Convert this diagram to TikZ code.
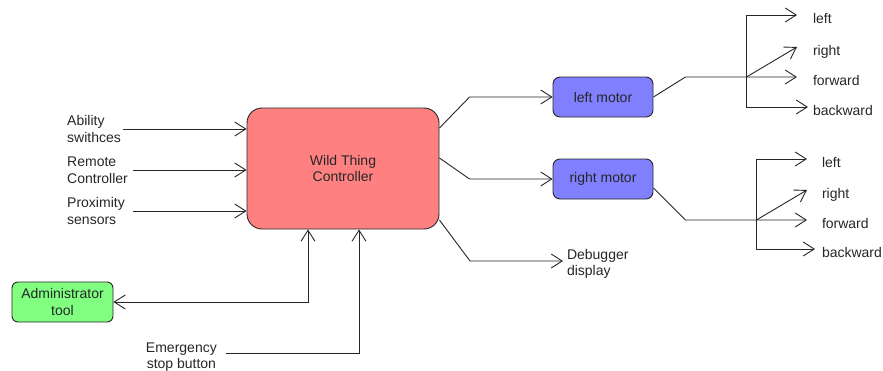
\documentclass[tikz,border=0pt]{standalone}
\usepackage{fontspec}
\setmainfont{Liberation Sans}
\usetikzlibrary{arrows.meta}
\definecolor{ctrlfill}{HTML}{FF8080}
\definecolor{motorfill}{HTML}{8080FF}
\definecolor{adminfill}{HTML}{80FF80}
\definecolor{ink}{HTML}{262626}
\begin{document}
\begin{tikzpicture}[x=1pt, y=-1pt,
  font=\fontsize{14}{16.5}\selectfont, text=ink,
  block/.style={draw=ink, line width=0.9pt, align=center, inner sep=0pt},
  inlbl/.style={anchor=west, align=left, inner sep=0pt},
  outlbl/.style={anchor=west, inner sep=0pt, outer xsep=#1,
                 text height=16pt, text depth=0pt},
  barb/.tip={Straight Barb[length=11pt, width=14pt]},
  wire/.style={draw=ink, line width=0.9pt, -barb},
  wireboth/.style={draw=ink, line width=0.9pt, barb-barb},
  plain/.style={draw=ink, line width=0.9pt}]
\useasboundingbox (0,0) rectangle (883,370);

% blocks
\node[block, fill=ctrlfill, minimum width=192pt, minimum height=121pt,
      rounded corners=15pt] (ctrl) at (343,168.5) {Wild Thing\\Controller};
\node[block, fill=motorfill, minimum width=100pt, minimum height=40pt,
      rounded corners=7pt] (lm) at (603,97) {left motor};
\node[block, fill=motorfill, minimum width=100pt, minimum height=40pt,
      rounded corners=7pt] (rm) at (603,179) {right motor};
\node[block, fill=adminfill, minimum width=101pt, minimum height=40pt,
      rounded corners=6pt] (admin) at (62.5,302) {Administrator\\tool};

% inputs
\node[inlbl] (inAb) at (67,129) {Ability\\swithces};
\node[inlbl] (inRc) at (67,170) {Remote\\Controller};
\node[inlbl] (inPx) at (67,211) {Proximity\\sensors};
\node[align=center, inner sep=0pt, anchor=east] (emg) at (217,357) {Emergency\\stop button};

\draw[wire] ([xshift=2pt]inAb.east) -- (inAb.east -| ctrl.west);
\draw[wire] ([xshift=5pt]inRc.east) -- (inRc.east -| ctrl.west);
\draw[wire] ([xshift=8.5pt]inPx.east) -- (inPx.east -| ctrl.west);
\draw[wireboth] ([xshift=-35pt]ctrl.south) |- (admin.east);
\draw[wire] ([xshift=9pt,yshift=4pt]emg.east) -| ([xshift=16pt]ctrl.south);

% outputs of the controller
\node[inlbl, inner xsep=0pt, outer xsep=4pt] (dbg) at (563,264) {Debugger\\display};
\draw[wire] ([yshift=40.5pt]ctrl.east) -- ([xshift=-83pt]lm.west) -- (lm.west);
\draw[wire] ([yshift=10.5pt]ctrl.east) -- ([xshift=-83pt]rm.west) -- (rm.west);
\draw[wire] ([yshift=-51.5pt]ctrl.east) -- ([xshift=-93pt,yshift=3pt]dbg.west)
            -- ([yshift=3pt]dbg.west);

% left motor directions
\node[outlbl=16pt] (lL) at (797,15)  {left};
\node[outlbl=16pt] (lR) at (797,47)  {right};
\node[outlbl=16pt] (lF) at (797,77)  {forward};
\node[outlbl=5pt]  (lB) at (808,107) {backward};
\coordinate (jL) at ([xshift=93pt,yshift=20pt]lm.east);
\draw[wire] (lm.east) -- ([xshift=32pt,yshift=20pt]lm.east) -- (jL) -- (lF.west);
\draw[wire] (jL) |- (lL.west);
\draw[wire] (jL) |- (lB.west);
\draw[wire] (jL) -- (lR.west);

% right motor directions
\node[outlbl=15pt] (rL) at (807,159) {left};
\node[outlbl=15pt] (rR) at (807,190) {right};
\node[outlbl=15pt] (rF) at (807,220) {forward};
\node[outlbl=7pt]  (rB) at (815,249) {backward};
\coordinate (jR) at ([xshift=103pt,yshift=-41pt]rm.east);
\draw[wire] ([yshift=-9pt]rm.east) -- ([xshift=32pt,yshift=-41pt]rm.east) -- (jR) -- (rF.west);
\draw[wire] (jR) |- (rL.west);
\draw[wire] (jR) |- (rB.west);
\draw[wire] (jR) -- (rR.west);
\end{tikzpicture}
\end{document}
